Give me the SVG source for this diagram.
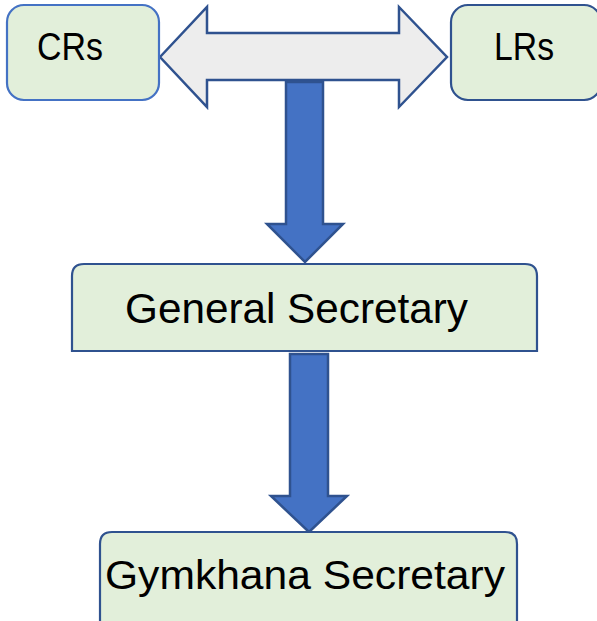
<svg xmlns="http://www.w3.org/2000/svg" width="597" height="621" viewBox="0 0 597 621">
<style>
.box{fill:#E2EFDA;stroke-width:2.2}
.t{font-family:"Liberation Sans",Arial,sans-serif;fill:#000}
.blue{fill:#4472C4;stroke:#2F528F;stroke-width:2.5;stroke-linejoin:miter}
.dbl{fill:#EDEDED;stroke:#2F528F;stroke-width:2.5;stroke-linejoin:miter}
</style>
<rect width="597" height="621" fill="#fff"/>
<g id="connectors">
<polygon class="dbl" points="160,57 207,7 207,33 399,33 399,7 447,57 399,107 399,80 207,80 207,107"/>
<polygon class="blue" points="286,82 323,82 323,224 343,224 305,262 267,224 286,224"/>
<polygon class="blue" points="290,354 328,354 328,496 347,496 309,532 271,496 290,496"/>
</g>
<g id="crs">
<rect class="box" x="7" y="5" width="152" height="95" rx="17" stroke="#4472C4"/>
<text class="t" x="37" y="60" font-size="39" textLength="66" lengthAdjust="spacingAndGlyphs">CRs</text>
</g>
<g id="lrs">
<rect class="box" x="451" y="5" width="150" height="95" rx="17" stroke="#2F528F"/>
<text class="t" x="494" y="60" font-size="39" textLength="60" lengthAdjust="spacingAndGlyphs">LRs</text>
</g>
<g id="general-secretary">
<path class="box" stroke="#2F528F" d="M72,351 V276 Q72,264 84,264 H525 Q537,264 537,276 V351 Z"/>
<text class="t" x="125" y="323" font-size="42" textLength="343" lengthAdjust="spacingAndGlyphs">General Secretary</text>
</g>
<g id="gymkhana-secretary">
<path class="box" stroke="#2F528F" d="M100,625 V544 Q100,532 112,532 H505 Q517,532 517,544 V625"/>
<text class="t" x="105" y="589" font-size="41" textLength="400" lengthAdjust="spacingAndGlyphs">Gymkhana Secretary</text>
</g>
</svg>
